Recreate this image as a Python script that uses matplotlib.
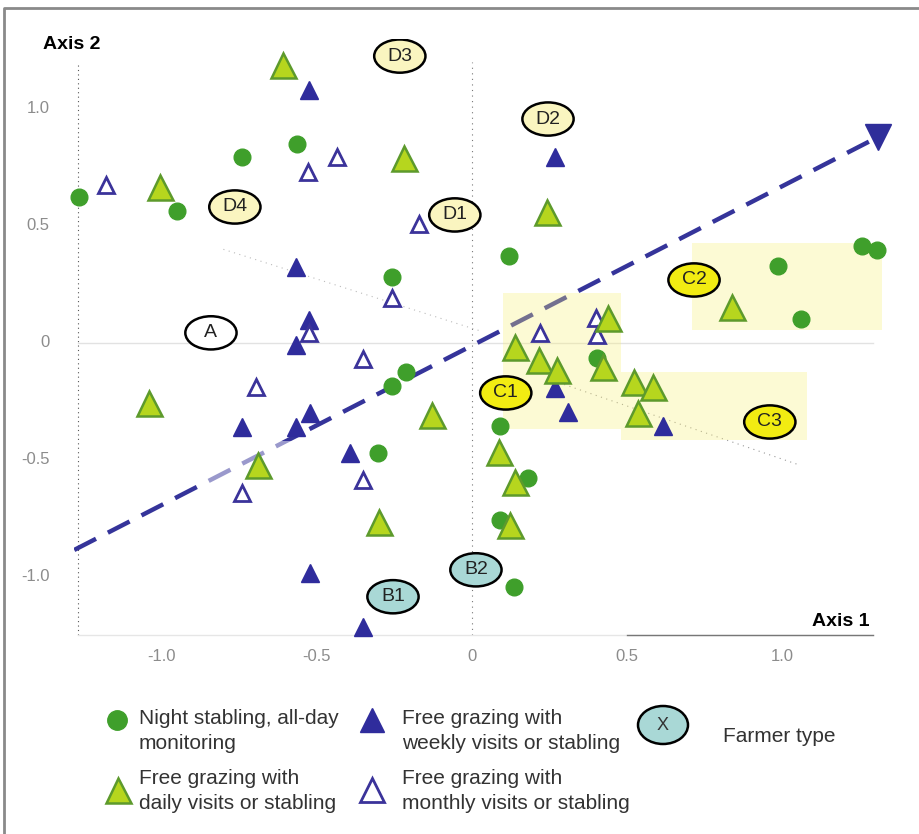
import numpy as np
import matplotlib.pyplot as plt
from matplotlib.patches import Ellipse, Rectangle

plt.rcParams['font.family'] = ['Liberation Sans', 'DejaVu Sans']

# Night stabling, all-day monitoring (green circles)
noche_x = [-1.265, -0.949, -0.740, -0.563, -0.257, -0.257, -0.212, -0.302, 0.119,
           0.985, 1.059, 1.255, 1.303, 0.402, 0.090, 0.180, 0.090, 0.135]
noche_y = [0.624, 0.564, 0.795, 0.850, 0.282, -0.184, -0.124, -0.470, 0.372,
           0.329, 0.103, 0.415, 0.397, -0.064, -0.355, -0.577, -0.756, -1.043]

# Free grazing with daily visits (green triangles)
diario_x = [-0.608, -1.004, -0.219, 0.241, 0.837, 0.438, 0.138, 0.216, 0.273, 0.422,
            0.521, 0.583, 0.534, 0.087, 0.138, 0.122, -1.040, -0.688, -0.129, -0.299]
diario_y = [1.188, 0.667, 0.790, 0.560, 0.154, 0.107, -0.017, -0.073, -0.115, -0.102,
            -0.166, -0.188, -0.299, -0.465, -0.594, -0.778, -0.258, -0.521, -0.308, -0.764]

# Free grazing with weekly visits (filled blue triangles)
semanal_x = [-0.525, -0.566, -0.525, -0.566, 0.267, -0.740, -0.566, -0.521, -0.393,
             -0.521, -0.351, 0.267, 0.309, 0.615]
semanal_y = [1.081, 0.325, 0.098, -0.010, 0.795, -0.359, -0.359, -0.300, -0.470,
             -0.984, -1.214, -0.193, -0.294, -0.355]

# Free grazing with monthly visits (open triangles)
mensual_x = [-1.178, -0.528, -0.435, -0.171, -0.257, -0.525, -0.351, -0.695, -0.740,
             -0.351, 0.219, 0.399, 0.402]
mensual_y = [0.675, 0.731, 0.795, 0.509, 0.192, 0.043, -0.068, -0.188, -0.641,
             -0.585, 0.043, 0.107, 0.034]

# Farmer types
tipos = ['A', 'D3', 'D2', 'D4', 'D1', 'C2', 'C1', 'C3', 'B2', 'B1']
tipos_x = [-0.840, -0.232, 0.245, -0.763, -0.055, 0.715, 0.109, 0.959, 0.013, -0.254]
tipos_y = [0.043, 1.226, 0.957, 0.581, 0.547, 0.269, -0.214, -0.338, -0.970, -1.085]
tipos_color = ['white', '#faf5c0', '#faf5c0', '#faf5c0', '#faf5c0',
               '#f2ec12', '#f2ec12', '#f2ec12', '#a9d8d6', '#a9d8d6']

# Axis 1 projection arrow
flecha_x = [-1.28, 1.307]
flecha_y = [-0.885, 0.88]

# Groups highlighted (x0, y0, width, height)
zonas = [(0.10, -0.37, 0.38, 0.585), (0.71, 0.056, 0.62, 0.37), (0.48, -0.415, 0.60, 0.29)]

ticks_x = [-1.0, -0.5, 0, 0.5, 1.0]
ticks_y = [-1.0, -0.5, 0, 0.5, 1.0]

fig = plt.figure(figsize=(9.19, 8.34), dpi=100)

# full-figure pixel axes for frame and legend
leg = fig.add_axes([0, 0, 1, 1], zorder=0)
leg.set_xlim(0, 919)
leg.set_ylim(834, 0)
leg.axis('off')
leg.plot([4, 4, 919], [834, 8, 8], color='#8a8a8a', lw=2)

ax = fig.add_axes([0.0808, 0.2326, 0.8789, 0.7209], zorder=1)
ax.patch.set_alpha(0)
ax.set_xlim(-1.28, 1.32)
ax.set_ylim(-1.27, 1.3)
for s in ax.spines.values():
    s.set_visible(False)
ax.set_xticks([])
ax.set_yticks([])

# axes lines
ax.plot([-1.268, -1.268], [-1.25, 1.2], color='#555555', lw=0.8, ls=(0, (1, 3)))
ax.plot([0, 0], [-1.25, 1.2], color='#777777', lw=0.8, ls=(0, (1, 4)))
ax.plot([-1.268, 1.29], [0, 0], color='#e2e2e2', lw=1)
ax.plot([-1.268, 1.29], [-1.25, -1.25], color='#e6e6e6', lw=1)
ax.plot([0.5, 1.29], [-1.25, -1.25], color='#777777', lw=1)

# faint dotted links
ax.plot([-0.8, 0.03], [0.40, 0.05], color='#bbbbbb', lw=0.8, ls=(0, (1, 4)))
ax.plot([0.28, 1.05], [-0.17, -0.52], color='#999999', lw=0.8, ls=(0, (1, 4)))

for i in range(len(ticks_x)):
    t = ticks_x[i]
    ax.text(t, -1.34, ('%.1f' % t) if t != 0 else '0', ha='center', va='center',
            fontsize=12, color='#8c8c8c')
    t = ticks_y[i]
    ax.text(-1.36, t, ('%.1f' % t) if t != 0 else '0', ha='right', va='center',
            fontsize=12, color='#8c8c8c')

ax.text(-1.38, 1.275, 'Axis 2', fontsize=14, fontweight='bold', ha='left', va='center')
ax.text(1.28, -1.19, 'Axis 1', fontsize=14, fontweight='bold', ha='right', va='center')

# dashed arrow
ax.plot(flecha_x, flecha_y, color='#35349a', lw=3.2, ls=(0, (5.5, 3)), zorder=2)
ax.plot(flecha_x[1], flecha_y[1], marker='v', ms=19, color='#2f2e9a', mec='#2f2e9a',
        zorder=3, clip_on=False)
ax.add_patch(Rectangle((-0.88, -0.62), 0.3, 0.2, color='white', alpha=0.5, lw=0, zorder=2.5))

for (x0, y0, w, h) in zonas:
    ax.add_patch(Rectangle((x0, y0), w, h, facecolor='#f8f07a', alpha=0.32, lw=0, zorder=2.6))

ax.plot(noche_x, noche_y, 'o', ms=12, color='#3f9f2b', mec='#3f9f2b', zorder=4, clip_on=False)
ax.plot(semanal_x, semanal_y, '^', ms=13, color='#2f2c9c', mec='#2f2c9c', zorder=5)
ax.plot(mensual_x, mensual_y, '^', ms=11, mfc='white', mec='#3b339a', mew=2, zorder=6)
ax.plot(diario_x, diario_y, '^', ms=18, mfc='#b6d61e', mec='#5d9a2c', mew=1.8, zorder=7)

for i in range(len(tipos)):
    ax.add_patch(Ellipse((tipos_x[i], tipos_y[i]), 0.165, 0.142, facecolor=tipos_color[i],
                         edgecolor='black', lw=1.8, zorder=8))
    ax.text(tipos_x[i], tipos_y[i], tipos[i], ha='center', va='center', fontsize=14,
            color='#222222', zorder=9)

# legend
leg.plot(117, 720, 'o', ms=14, color='#3f9f2b')
leg.plot(118, 790, '^', ms=18, mfc='#b6d61e', mec='#5d9a2c', mew=1.8)
leg.plot(372, 720, '^', ms=17, color='#2f2c9c')
leg.plot(372, 790, '^', ms=17, mfc='white', mec='#3b339a', mew=2)
leg.add_patch(Ellipse((663, 725), 50, 38, facecolor='#a9d8d6', edgecolor='black', lw=1.8))
leg.text(663, 725, 'X', ha='center', va='center', fontsize=13, color='#333333')
fs = 15
leg.text(139, 731, 'Night stabling, all-day\nmonitoring', fontsize=fs, va='center',
         ha='left', color='#333333', linespacing=1.4)
leg.text(139, 791, 'Free grazing with\ndaily visits or stabling', fontsize=fs, va='center',
         ha='left', color='#333333', linespacing=1.4)
leg.text(402, 731, 'Free grazing with\nweekly visits or stabling', fontsize=fs, va='center',
         ha='left', color='#333333', linespacing=1.4)
leg.text(402, 791, 'Free grazing with\nmonthly visits or stabling', fontsize=fs, va='center',
         ha='left', color='#333333', linespacing=1.4)
leg.text(723, 736, 'Farmer type', fontsize=fs, va='center', ha='left', color='#333333')

fig.savefig('out.png', dpi=100)
